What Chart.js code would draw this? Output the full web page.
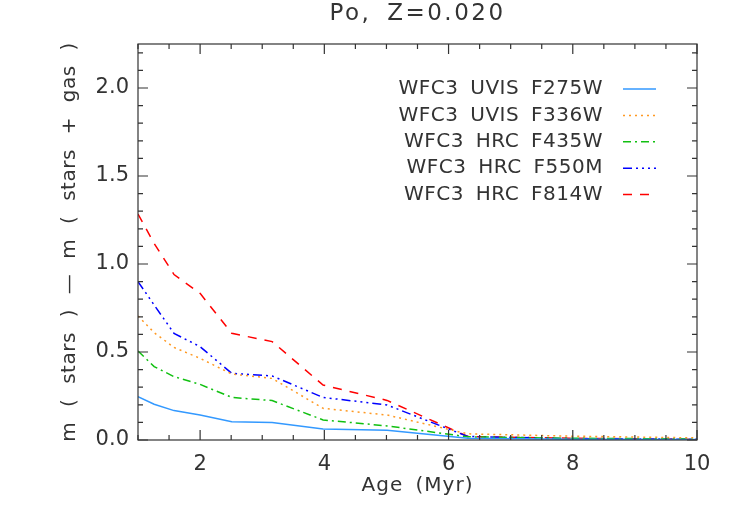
<!DOCTYPE html>
<html>
<head>
<meta charset="utf-8">
<title>Po, Z=0.020</title>
<script src="https://cdn.jsdelivr.net/npm/chart.js@4.4.1/dist/chart.umd.min.js"></script>
<style>
  body { margin: 0; background: #fff; }
  #grafico { display: block; }
</style>
</head>
<body>
<canvas id="grafico" width="739" height="528"></canvas>
<script>
// datos (edad en Myr, paso de 0.1 dex)
const edades = [1, 1.26, 1.58, 2, 2.51, 3.16, 3.98, 5.01, 6.31, 7.94, 10]
const f275w = [0.246, 0.203, 0.167, 0.142, 0.104, 0.099, 0.063, 0.055, 0.010, 0.004, 0.003]
const f336w = [0.705, 0.610, 0.526, 0.464, 0.375, 0.350, 0.180, 0.142, 0.035, 0.022, 0.012]
const f435w = [0.506, 0.417, 0.360, 0.316, 0.242, 0.224, 0.114, 0.080, 0.018, 0.010, 0.006]
const f550m = [0.900, 0.767, 0.606, 0.530, 0.379, 0.364, 0.242, 0.199, 0.020, 0.008, 0.004]
const f814w = [1.284, 1.117, 0.940, 0.833, 0.606, 0.559, 0.312, 0.225, 0.020, 0.010, 0.004]

const etiquetas = ['WFC3 UVIS F275W', 'WFC3 UVIS F336W', 'WFC3 HRC F435W', 'WFC3 HRC F550M', 'WFC3 HRC F814W']
const ticksX = [2, 4, 6, 8, 10]
const ticksY = [0, 0.5, 1.0, 1.5, 2.0]

const titulo = 'Po, Z=0.020'
const tituloX = 'Age (Myr)'
const tituloY = 'm ( stars ) — m ( stars + gas )'

const FUENTE = '"DejaVu Sans", "Liberation Sans", sans-serif'
const TINTA = '#333'

const series = [f275w, f336w, f435w, f550m, f814w]
const colores = ['#3399ff', '#ff9922', '#11c011', '#0000ff', '#ff0000']
const trazos = [[], [2, 4], [8, 4, 2, 4], [9, 4, 2, 4, 2, 4, 2, 4], [9, 8]]

const datasets = series.map((serie, i) => ({
    label: etiquetas[i],
    data: edades.map((x, j) => ({ x: x, y: serie[j] })),
    borderColor: colores[i],
    borderDash: trazos[i],
    borderWidth: 1.5,
    pointRadius: 0,
    tension: 0,
    fill: false
}))

// marco con marcas hacia adentro, leyenda y titulos
const marco = {
    id: 'marco',
    afterDraw(chart) {
        const ctx = chart.ctx
        const a = chart.chartArea
        const sx = chart.scales.x
        const sy = chart.scales.y
        ctx.save()
        ctx.strokeStyle = TINTA
        ctx.lineWidth = 1.2
        ctx.setLineDash([])
        ctx.strokeRect(a.left, a.top, a.right - a.left, a.bottom - a.top)

        ctx.beginPath()
        for (let k = 0; k <= 18; k++) {
            const v = 1 + k * 0.5
            const px = sx.getPixelForValue(v)
            const largo = ticksX.includes(v) ? 10 : 5
            ctx.moveTo(px, a.bottom); ctx.lineTo(px, a.bottom - largo)
            ctx.moveTo(px, a.top); ctx.lineTo(px, a.top + largo)
        }
        for (let k = 0; k <= 22; k++) {
            const v = k / 10
            const py = sy.getPixelForValue(v)
            const largo = k % 5 === 0 ? 10 : 5
            ctx.moveTo(a.left, py); ctx.lineTo(a.left + largo, py)
            ctx.moveTo(a.right, py); ctx.lineTo(a.right - largo, py)
        }
        ctx.stroke()

        // leyenda
        ctx.fillStyle = TINTA
        ctx.font = '20px ' + FUENTE
        ctx.letterSpacing = '0.5px'
        ctx.wordSpacing = '5px'
        ctx.textAlign = 'right'
        ctx.textBaseline = 'middle'
        chart.data.datasets.forEach((ds, i) => {
            const y = 89 + i * 26.4
            ctx.fillText(ds.label, 603, y)
            ctx.beginPath()
            ctx.strokeStyle = ds.borderColor
            ctx.lineWidth = 1.5
            ctx.setLineDash(ds.borderDash)
            ctx.moveTo(623, y); ctx.lineTo(656, y)
            ctx.stroke()
        })
        ctx.setLineDash([])

        // titulos
        const cx = (a.left + a.right) / 2
        ctx.textAlign = 'center'
        ctx.textBaseline = 'alphabetic'
        ctx.font = '23px ' + FUENTE
        ctx.letterSpacing = '2.5px'
        ctx.wordSpacing = '6px'
        ctx.fillText(titulo, cx, 20)

        ctx.font = '20px ' + FUENTE
        ctx.letterSpacing = '1px'
        ctx.wordSpacing = '5px'
        ctx.fillText(tituloX, cx, 491)

        ctx.translate(75, (a.top + a.bottom) / 2)
        ctx.rotate(-Math.PI / 2)
        ctx.letterSpacing = '0.5px'
        ctx.wordSpacing = '8px'
        ctx.fillText(tituloY, 0, 0)
        ctx.restore()
    }
}

const ctx = document.querySelector('#grafico').getContext('2d')
new Chart(ctx, {
    type: 'line',
    data: { datasets: datasets },
    options: {
        responsive: false,
        animation: false,
        devicePixelRatio: 1,
        layout: { padding: { top: 44, right: 42, left: 0, bottom: 0 } },
        plugins: {
            legend: { display: false },
            title: { display: false },
            tooltip: { enabled: false }
        },
        scales: {
            x: {
                type: 'linear',
                min: 1,
                max: 10,
                afterBuildTicks: s => { s.ticks = ticksX.map(v => ({ value: v })) },
                afterFit: s => { s.height = 88 },
                grid: { display: false, drawTicks: false },
                border: { display: false },
                ticks: {
                    padding: 12,
                    color: TINTA,
                    autoSkip: false,
                    maxRotation: 0,
                    font: { family: FUENTE, size: 21 },
                    callback: v => String(v)
                }
            },
            y: {
                type: 'linear',
                min: 0,
                max: 2.25,
                afterBuildTicks: s => { s.ticks = ticksY.map(v => ({ value: v })) },
                afterFit: s => { s.width = 138 },
                grid: { display: false, drawTicks: false },
                border: { display: false },
                ticks: {
                    padding: 9,
                    color: TINTA,
                    autoSkip: false,
                    font: { family: FUENTE, size: 21 },
                    callback: v => v.toFixed(1)
                }
            }
        }
    },
    plugins: [marco]
})
</script>
</body>
</html>
